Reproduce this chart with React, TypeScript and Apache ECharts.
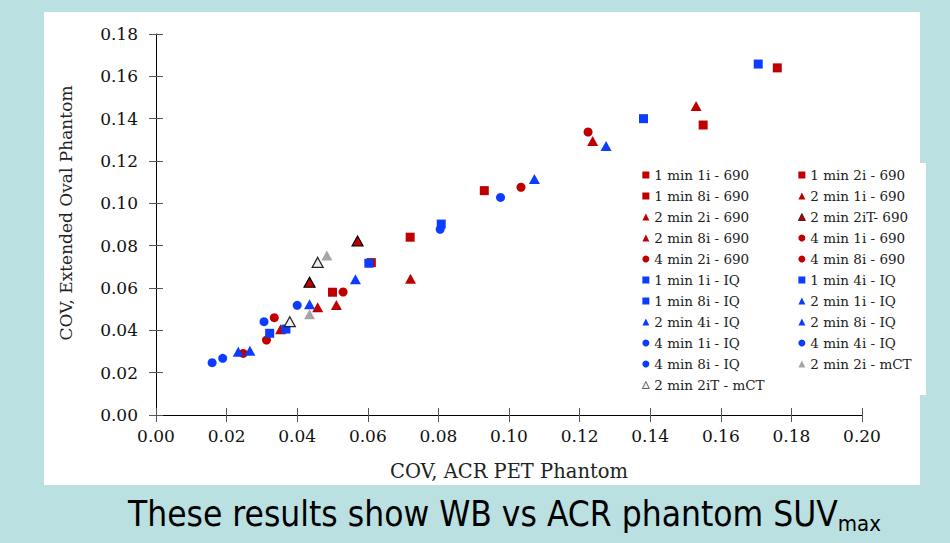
import React, { useEffect, useRef } from "react";
import * as echarts from "echarts";

// ---- data (x: COV ACR PET phantom, y: COV extended oval phantom) ----
const xTicks = [0, 0.2, 0.02];
const yTicks = [0, 0.18, 0.02];

const s1min1i690 = [[0.176, 0.164], [0.093, 0.106]];
const s1min2i690 = [[0.155, 0.137], [0.072, 0.084]];
const s1min8i690 = [[0.061, 0.072], [0.050, 0.058]];
const s2min1i690 = [[0.153, 0.146], [0.0721, 0.0644]];
const s2min2i690 = [[0.1237, 0.1294], [0.0511, 0.052]];
const s2min2iT690 = [[0.0571, 0.0822], [0.0435, 0.0627]];
const s2min8i690 = [[0.0458, 0.0509], [0.0353, 0.0405]];
const s4min1i690 = [[0.1224, 0.1337], [0.053, 0.0581]];
const s4min2i690 = [[0.1034, 0.1076], [0.0335, 0.046]];
const s4min8i690 = [[0.0313, 0.0354], [0.0247, 0.0291]];
const s1min1iIQ = [[0.1706, 0.1658], [0.0808, 0.0902]];
const s1min4iIQ = [[0.1381, 0.14], [0.0603, 0.0717]];
const s1min8iIQ = [[0.0368, 0.0406], [0.0322, 0.0386]];
const s2min1iIQ = [[0.1275, 0.1271], [0.0565, 0.0641]];
const s2min4iIQ = [[0.1072, 0.1115], [0.0435, 0.0523]];
const s2min8iIQ = [[0.0266, 0.0304], [0.0233, 0.0299]];
const s4min1iIQ = [[0.0976, 0.1028], [0.0805, 0.0877]];
const s4min4iIQ = [[0.040, 0.0518], [0.0306, 0.0441]];
const s4min8iIQ = [[0.0189, 0.0268], [0.0159, 0.0247]];
const s2min2imCT = [[0.0484, 0.0754], [0.0435, 0.0476]];
const s2min2iTmCT = [[0.0458, 0.0721], [0.0379, 0.0441]];

const seriesNames = [
  "1 min 1i - 690", "1 min 2i - 690", "1 min 8i - 690",
  "2 min 1i - 690", "2 min 2i - 690", "2 min 2iT- 690", "2 min 8i - 690",
  "4 min 1i - 690", "4 min 2i - 690", "4 min 8i - 690",
  "1 min 1i - IQ", "1 min 4i - IQ", "1 min 8i - IQ",
  "2 min 1i - IQ", "2 min 4i - IQ", "2 min 8i - IQ",
  "4 min 1i - IQ", "4 min 4i - IQ", "4 min 8i - IQ",
  "2 min 2i - mCT", "2 min 2iT - mCT",
];
const seriesData = [
  s1min1i690, s1min2i690, s1min8i690,
  s2min1i690, s2min2i690, s2min2iT690, s2min8i690,
  s4min1i690, s4min2i690, s4min8i690,
  s1min1iIQ, s1min4iIQ, s1min8iIQ,
  s2min1iIQ, s2min4iIQ, s2min8iIQ,
  s4min1iIQ, s4min4iIQ, s4min8iIQ,
  s2min2imCT, s2min2iTmCT,
];

// ---- styles ----
const RED = "#c00000";
const BLUE = "#0b3cff";
const GRAY = "#a6a6a6";
type Sty = { symbol: string; size: number | number[]; color: string; border?: string };
const sq = (c: string): Sty => ({ symbol: "rect", size: 9, color: c });
const tri = (c: string, border?: string): Sty => ({ symbol: "triangle", size: [11, 10], color: c, border });
const cir = (c: string): Sty => ({ symbol: "circle", size: 9, color: c });
const styles: Sty[] = [
  sq(RED), sq(RED), sq(RED),
  tri(RED), tri(RED), tri(RED, "#000"), tri(RED),
  cir(RED), cir(RED), cir(RED),
  sq(BLUE), sq(BLUE), sq(BLUE),
  tri(BLUE), tri(BLUE), tri(BLUE),
  cir(BLUE), cir(BLUE), cir(BLUE),
  tri(GRAY), tri("#efefef", "#222"),
];

const SERIF = "'DejaVu Serif', serif";
const SANS_C = "'DejaVu Sans Condensed', 'Liberation Sans Narrow', sans-serif";

export default function App() {
  const ref = useRef<HTMLDivElement>(null);
  useEffect(() => {
    document.body.style.margin = "0";
    if (!ref.current) return;
    const chart = echarts.init(ref.current, undefined, { renderer: "svg" });
    const axisCommon = (min: number, max: number, interval: number) => ({
      type: "value" as const,
      min,
      max,
      interval,
      splitLine: { show: false },
    });
    const fmt = (v: number) => v.toFixed(2);
    const legendItems = (odd: number) =>
      seriesNames
        .map((name, i) => ({ name, i }))
        .filter((o) => o.i % 2 === odd)
        .map((o) =>
          styles[o.i].border
            ? { name: o.name, itemStyle: { borderWidth: 0.7, borderColor: styles[o.i].border } }
            : { name: o.name }
        );
    const legendBase = {
      orient: "vertical",
      top: 168,
      padding: 0,
      itemWidth: 7,
      itemHeight: 7,
      itemGap: 7,
      selectedMode: false,
      textStyle: { fontFamily: SERIF, fontSize: 13.5, color: "#222", lineHeight: 14 },
    };
    const option: any = {
      animation: false,
      backgroundColor: "#bae0e2",
      grid: { left: 156, right: 88, top: 34, bottom: 128 },
      xAxis: [
        {
          ...axisCommon(xTicks[0], xTicks[1], xTicks[2]),
          position: "bottom",
          axisLine: { show: true, lineStyle: { color: "#000", width: 1 } },
          axisTick: { show: true, inside: false, length: 7, lineStyle: { color: "#555" } },
          axisLabel: { formatter: fmt, margin: 12, fontFamily: SERIF, fontSize: 17, color: "#111" },
          name: "COV, ACR PET Phantom",
          nameLocation: "middle",
          nameGap: 46,
          nameTextStyle: { fontFamily: SERIF, fontSize: 19.5, color: "#222" },
        },
        {
          ...axisCommon(xTicks[0], xTicks[1], xTicks[2]),
          position: "bottom",
          axisLine: { show: false },
          axisTick: { show: true, inside: true, length: 7, lineStyle: { color: "#555" } },
          axisLabel: { show: false },
        },
      ],
      yAxis: [
        {
          ...axisCommon(yTicks[0], yTicks[1], yTicks[2]),
          position: "left",
          axisLine: { show: true, lineStyle: { color: "#000", width: 1 } },
          axisTick: { show: true, inside: false, length: 7, lineStyle: { color: "#555" } },
          axisLabel: { formatter: fmt, margin: 18, fontFamily: SERIF, fontSize: 17, color: "#111" },
        },
        {
          ...axisCommon(yTicks[0], yTicks[1], yTicks[2]),
          position: "left",
          axisLine: { show: false },
          axisTick: { show: true, inside: true, length: 7, lineStyle: { color: "#555" } },
          axisLabel: { show: false },
        },
      ],
      legend: [
        { ...legendBase, left: 642, data: legendItems(0) },
        { ...legendBase, left: 798, data: legendItems(1) },
      ],
      graphic: [
        { type: "rect", z: -100, silent: true, shape: { x: 44, y: 12, width: 876, height: 473 }, style: { fill: "#fff" } },
        { type: "rect", z: -100, silent: true, shape: { x: 620, y: 163, width: 306, height: 232 }, style: { fill: "#fff" } },
        {
          type: "text",
          x: 66,
          y: 213,
          rotation: Math.PI / 2,
          style: {
            text: "COV, Extended Oval Phantom",
            fontFamily: SERIF,
            fontSize: 17,
            fill: "#222",
            align: "center",
            verticalAlign: "middle",
          },
        },
        {
          type: "text",
          x: 128,
          y: 494,
          style: {
            text: "{a|These results show WB vs ACR phantom SUV}{b|max}",
            align: "left",
            verticalAlign: "top",
            rich: {
              a: { fontFamily: SANS_C, fontSize: 35, lineHeight: 40, fill: "#000", color: "#000" },
              b: { fontFamily: SANS_C, fontSize: 22, lineHeight: 8, verticalAlign: "bottom", fill: "#000", color: "#000" },
            },
          },
        },
      ],
      series: seriesNames.map((name, i) => ({
        name,
        type: "scatter",
        data: seriesData[i],
        symbol: styles[i].symbol,
        symbolSize: styles[i].size,
        itemStyle: {
          color: styles[i].color,
          borderColor: styles[i].border || styles[i].color,
          borderWidth: styles[i].border ? 1.2 : 0,
          opacity: 1,
        },
        emphasis: { disabled: true },
      })),
    };
    chart.setOption(option);
    return () => chart.dispose();
  }, []);
  return <div ref={ref} style={{ position: "fixed", left: 0, top: 0, width: 950, height: 543 }} />;
}
